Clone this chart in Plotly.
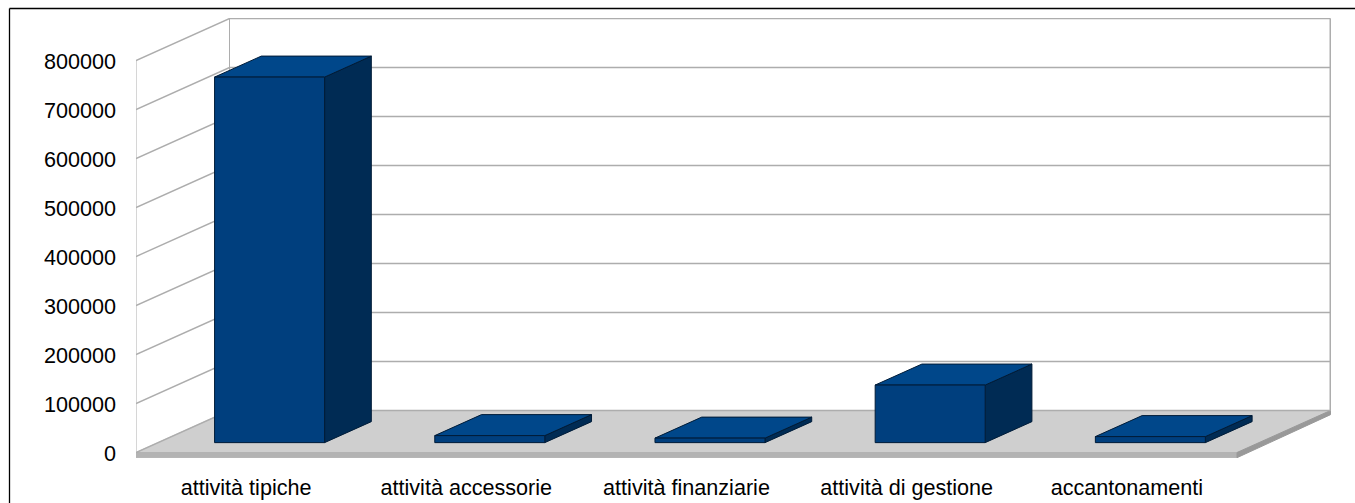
import plotly.graph_objects as go

categories = ["attività tipiche", "attività accessorie", "attività finanziarie", "attività di gestione", "accantonamenti"]
values = [746000, 14300, 9200, 117500, 12300]
y_ticks = [0, 100000, 200000, 300000, 400000, 500000, 600000, 700000, 800000]

# Pixel geometry of the oblique projection
W, H = 1355, 503
PL, PR, PT, PB = 136, 1331, 18, 458
CAT_PX = 220.2
VAL_PX = 49 / 100000
Y0_PX = 452.5
DX = 93.5 / CAT_PX      # depth offset in category units
DY = 42 / VAL_PX        # depth offset in value units
X_MIN, X_MAX = -0.5, len(categories) - 0.5
Y_MAX = max(y_ticks)
STRIPE = 5.2 / VAL_PX
BAR_W = 110 / CAT_PX
BAR_SHIFT = 1.5 / CAT_PX
Z0, Z1 = 0.235, 0.735

GRID = "#adadad"
FLOOR = "#cfcfcf"
FRONT, TOP, SIDE, EDGE = "#003f7e", "#00478a", "#002b54", "#001c38"


def proj(x, v, z=0.0):
    return x + z * DX, v + z * DY


def poly(fig, pts, fill, line=None, lw=1.0):
    xs = [p[0] for p in pts] + [pts[0][0]]
    ys = [p[1] for p in pts] + [pts[0][1]]
    fig.add_trace(go.Scatter(x=xs, y=ys, mode="lines", fill="toself", fillcolor=fill,
                             line=dict(color=line or fill, width=lw), hoverinfo="skip",
                             showlegend=False, cliponaxis=False))


def seg(fig, xs, ys, lw=1.4, color=GRID):
    fig.add_trace(go.Scatter(x=xs, y=ys, mode="lines", line=dict(color=color, width=lw),
                             hoverinfo="skip", showlegend=False, cliponaxis=False))


fig = go.Figure()

# floor with its front and right thickness
a, b, c, d = proj(X_MIN, 0), proj(X_MAX, 0), proj(X_MAX, 0, 1), proj(X_MIN, 0, 1)
poly(fig, [a, b, c, d], FLOOR)
poly(fig, [a, b, (b[0], b[1] - STRIPE), (a[0], a[1] - STRIPE)], "#b3b3b3")
poly(fig, [b, c, (c[0], c[1] - STRIPE * 0.8), (b[0], b[1] - STRIPE)], "#999999")

# wall grid lines
xs, ys = [], []
for t in y_ticks:
    p0, p1, p2 = proj(X_MIN, t), proj(X_MIN, t, 1), proj(X_MAX, t, 1)
    xs += [p0[0], p1[0], p2[0], None]
    ys += [p0[1], p1[1], p2[1], None]
seg(fig, xs, ys)

# wall verticals
seg(fig, [proj(X_MIN, 0)[0]] * 2, [0, Y_MAX], lw=1)
p0, p1 = proj(X_MIN, 0, 1), proj(X_MIN, Y_MAX, 1)
seg(fig, [p0[0], p1[0]], [p0[1], p1[1]], lw=1)
p0, p1 = proj(X_MAX, 0, 1), proj(X_MAX, Y_MAX, 1)
seg(fig, [p0[0], p1[0]], [p0[1], p1[1]], lw=2)

# bars
for i, v in enumerate(values):
    xl, xr = i + BAR_SHIFT - BAR_W / 2, i + BAR_SHIFT + BAR_W / 2
    poly(fig, [proj(xr, 0, Z0), proj(xr, 0, Z1), proj(xr, v, Z1), proj(xr, v, Z0)], SIDE, EDGE, 1)
    poly(fig, [proj(xl, v, Z0), proj(xr, v, Z0), proj(xr, v, Z1), proj(xl, v, Z1)], TOP, EDGE, 1)
    poly(fig, [proj(xl, 0, Z0), proj(xr, 0, Z0), proj(xr, v, Z0), proj(xl, v, Z0)], FRONT, EDGE, 1)


def paper_x(px):
    return (px - PL) / (PR - PL)


def paper_y(py):
    return (PB - py) / (PB - PT)


FONT = "Liberation Sans"
fig.update_layout(
    width=W, height=H, margin=dict(l=PL, r=W - PR, t=PT, b=H - PB, autoexpand=False),
    paper_bgcolor="white", plot_bgcolor="white", showlegend=False,
    font=dict(family=FONT, size=21.6, color="#000000"),
    xaxis=dict(range=[X_MIN, X_MIN + (PR - PL) / CAT_PX], tickmode="array",
               tickvals=list(range(len(categories))), ticktext=categories,
               showgrid=False, zeroline=False, showline=False, ticks="",
               ticklabelstandoff=14, fixedrange=True, automargin=False),
    yaxis=dict(range=[(Y0_PX - PB) / VAL_PX, (Y0_PX - PT) / VAL_PX], tickmode="array",
               tickvals=y_ticks, ticktext=[str(t) for t in y_ticks],
               showgrid=False, zeroline=False, showline=False, ticks="",
               ticklabelstandoff=19, ticklabelshift=1, fixedrange=True, automargin=False),
    shapes=[
        dict(type="line", xref="paper", yref="paper", x0=paper_x(9.5), x1=paper_x(1355),
             y0=paper_y(8.5), y1=paper_y(8.5), line=dict(color="black", width=1.3)),
        dict(type="line", xref="paper", yref="paper", x0=paper_x(9.5), x1=paper_x(9.5),
             y0=paper_y(8.5), y1=paper_y(503), line=dict(color="black", width=1.3)),
    ],
)

fig.write_html("out.html", config={"displayModeBar": False},
               post_script="document.body.style.margin='0';document.body.style.overflow='hidden';")
